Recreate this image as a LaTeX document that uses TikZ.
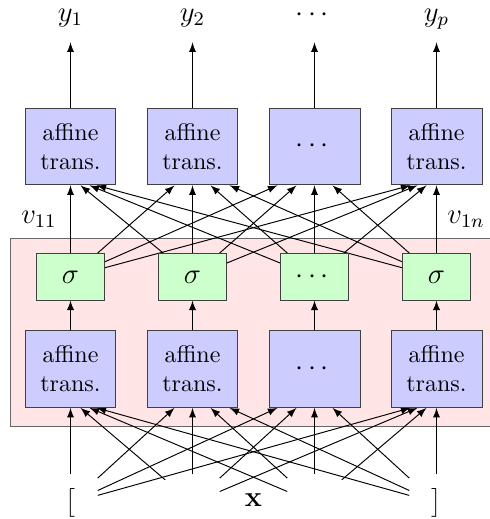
\documentclass[tikz,border=0pt]{standalone}
\usepackage{amsmath}
\usepackage{tikz}
\usetikzlibrary{arrows, calc, positioning, backgrounds}

\begin{document}
\begin{tikzpicture}[>=latex, x=0.4167pt, y=0.4167pt,
    affine/.style={draw=black!75, fill=blue!20, minimum width=37.9pt,
      minimum height=32pt, inner sep=0pt, align=center},
    act/.style={draw=black!75, fill=green!20, minimum width=28.3pt,
      minimum height=19.2pt, inner sep=0pt, font=\large},
    input/.style={minimum width=22.3pt, minimum height=23.6pt, inner sep=0pt},
    ylab/.style={anchor=base, inner sep=0pt, text height=5pt, text depth=8.5pt,
      font=\large}]
    \useasboundingbox (0,0) rectangle (489,519);

    % output layer
    \node[affine] (t1) at (70.5,372.5) {affine\\trans.};
    \node[affine] (t2) at (192.5,372.5) {affine\\trans.};
    \node[affine, font=\large] (t3) at (314.5,372.5) {$\cdots$};
    \node[affine] (t4) at (436.5,372.5) {affine\\trans.};

    \node[ylab] (y1) at (70.5,497.5) {$y_1$};
    \node[ylab] (y2) at (192.5,497.5) {$y_2$};
    \node[ylab] (y3) at (314.5,497.5) {$\cdots$};
    \node[ylab] (y4) at (436.5,497.5) {$y_p$};

    % hidden layer
    \node[act] (s1) at (70.5,242) {$\sigma$};
    \node[act] (s2) at (192.5,242) {$\sigma$};
    \node[act] (s3) at (314.5,242) {$\cdots$};
    \node[act] (s4) at (436.5,242) {$\sigma$};

    \node[affine] (a1) at (70.5,150) {affine\\trans.};
    \node[affine] (a2) at (192.5,150) {affine\\trans.};
    \node[affine, font=\large] (a3) at (314.5,150) {$\cdots$};
    \node[affine] (a4) at (436.5,150) {affine\\trans.};

    % input
    \node[input] (i1) at (70.5,16) {$\big[$};
    \node[input] (i2) at (192.5,16) {};
    \node[input] (i3) at (314.5,16) {};
    \node[input] (i4) at (436.5,16) {$\big]$};
    \node[font=\large] (xin) at (253.5,19) {$\mathbf{x}$};

    \begin{scope}[on background layer]
      \draw[draw=black!60, fill=red!10] (10,92.3) rectangle (497,281);

      \foreach \p/\q/\o in {2/1/10, 3/1/19, 4/1/26, 1/2/-18, 3/2/18, 4/2/37,
          1/3/-37, 2/3/-18, 4/3/18, 1/4/-26, 2/4/-19, 3/4/-10} {
        \draw[->] (i\p) -- ($(a\q.south)+(\o,0)$);
        \draw[->] (s\p) -- ($(t\q.south)+(\o,0)$);
      }
      \foreach \k in {1,...,4} {
        \draw[->] (i\k) -- (a\k);
        \draw[->] (a\k) -- (s\k);
        \draw[->] (t\k) -- (y\k);
      }
      \draw[->] (s1) -- (t1) node[midway, left=2.3pt, font=\large] (v11) {$v_{11}$};
      \draw[->] (s2) -- (t2);
      \draw[->] (s3) -- (t3);
      \draw[->] (s4) -- (t4) node[midway, right=1pt, font=\large] (v1n) {$v_{1n}$};
    \end{scope}
  \end{tikzpicture}
\end{document}
